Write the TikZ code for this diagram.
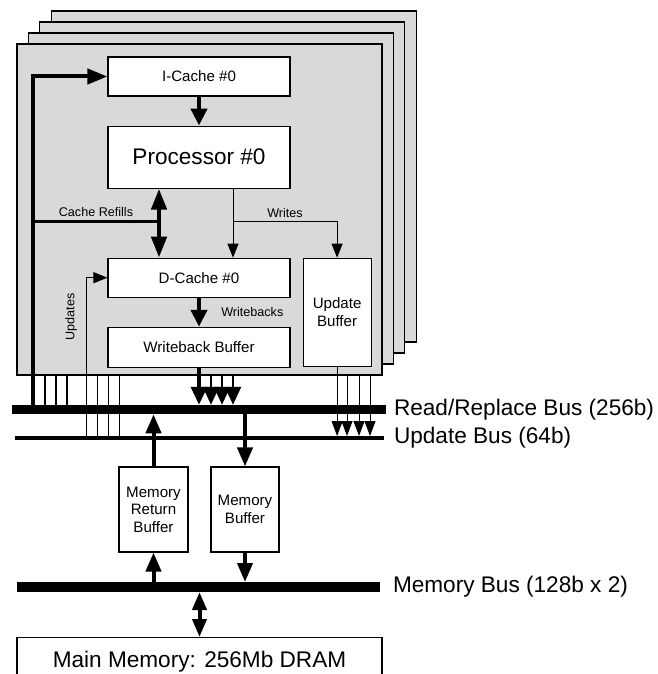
\documentclass[tikz,border=0pt]{standalone}
\usepackage{fontspec}
\setmainfont{Liberation Sans}
\usetikzlibrary{arrows.meta,positioning}

\begin{document}
\begin{tikzpicture}[x=1pt,y=-1pt]
  \tikzset{
    box/.style={draw, fill=white, line width=1.1pt, inner sep=0pt, align=center,
                font=\fontsize{15.1}{17.5}\selectfont},
    bigtxt/.style={font=\fontsize{22.6}{26}\selectfont},
    lbl/.style={font=\fontsize{12.6}{15}\selectfont, inner sep=1pt},
    buslbl/.style={font=\fontsize{22.6}{26}\selectfont, inner sep=0pt, outer sep=0pt, anchor=west},
    fat/.style={line width=4.5pt, -{Triangle[length=17pt,width=16pt]}},
    fatboth/.style={line width=4.5pt, {Triangle[length=21pt,width=15pt]}-{Triangle[length=21pt,width=15pt]}},
    wide/.style={line width=4pt, -{Triangle[length=19pt,width=15pt]}},
    wideboth/.style={line width=4pt, {Triangle[length=18pt,width=14pt]}-{Triangle[length=18pt,width=14pt]}},
    wbarrow/.style={line width=2.5pt, -{Triangle[length=18pt,width=16pt]}},
    fine/.style={line width=1pt, -{Triangle[length=14pt,width=11pt]}},
    ubarrow/.style={line width=1pt, -{Triangle[length=15pt,width=11pt]}}
  }
  \useasboundingbox (0,0) rectangle (657,674);

  % stacked processor tiles
  \foreach \i in {3,2,1,0}
    \draw[fill=black!15, line width=1.2pt] (17+11.4*\i,44-11*\i) rectangle +(365,331);

  \node[box, minimum width=182pt, minimum height=39pt] (icache) at (199,76.5) {I-Cache \#0};
  \node[box, bigtxt, minimum width=182pt, minimum height=62pt, below=29pt of icache] (proc) {Processor \#0};
  \node[box, minimum width=182pt, minimum height=39pt, below=69pt of proc] (dcache) {D-Cache \#0};
  \node[box, minimum width=182pt, minimum height=40pt, below=29pt of dcache] (wbuf) {Writeback Buffer};
  \node[box, minimum width=68pt, minimum height=108pt, anchor=north west] (ubuf)
    at ([xshift=12pt]dcache.north east) {Update\\Buffer};

  \node[box, minimum width=69pt, minimum height=85pt] (mrbuf) at (153.5,509.5) {Memory\\Return\\Buffer};
  \node[box, minimum width=68pt, minimum height=85pt] (mbuf) at (245,509.5) {Memory\\Buffer};
  \node[box, bigtxt, anchor=north, minimum width=365pt, inner ysep=14pt, text height=16pt, text depth=5pt]
    (mainmem) at (199.5,637) {Main Memory: 256Mb DRAM};

  % buses
  \coordinate (rtop) at (0,404.75);
  \coordinate (rbot) at (0,414.25);
  \coordinate (utop) at (0,436);
  \coordinate (mtop) at (0,582);
  \coordinate (mbot) at (0,592);
  \draw[line width=9.5pt] (12,409.5) -- (386,409.5) node[buslbl, xshift=8pt] {Read/Replace Bus (256b)};
  \draw[line width=4pt] (15,438) -- (384,438) node[buslbl, xshift=10pt] {Update Bus (64b)};
  \draw[line width=10pt] (17,587) -- (380,587) node[buslbl, xshift=13pt] {Memory Bus (128b x 2)};

  % refills
  \coordinate (tap) at (33,409.5);
  \coordinate (refill) at (159,221);
  \draw[line width=4pt, -{Triangle[length=20pt,width=15pt]}] (tap) |- (icache.west);
  \draw[line width=3pt] (tap |- refill) -- node[lbl, above=2pt] {Cache Refills} (refill);
  \draw[fatboth] (proc.south -| refill) -- (dcache.north -| refill);
  \foreach \x in {45,56,67}
    \draw[line width=2.5pt] (\x,375) -- (\x,409.5);

  % updates
  \coordinate (upd) at (86,438);
  \draw[fine] (upd) |- (dcache.west);
  \node[lbl, rotate=90] at (71,317) {Updates};
  \foreach \x in {97,108,119}
    \draw[line width=1pt] (\x,375) -- (\x,438);

  % processor side
  \draw[fat] (icache) -- (proc);
  \draw[fat] (dcache) -- node[lbl, anchor=west, xshift=19pt] {Writebacks} (wbuf);
  \coordinate (wr) at (233,221);
  \draw[fine] (proc.south -| wr) -- (dcache.north -| wr);
  \draw[fine] (wr) -| node[lbl, above=2pt, pos=0.25] {Writes} (ubuf.north);

  % writebacks and update buffer onto the buses
  \foreach \x in {211,222,233}
    \draw[wbarrow] (\x,375) -- (\x,404.75);
  \draw[wbarrow, line width=3.5pt] (wbuf.south) -- (wbuf.south |- rtop);
  \foreach \x in {347,359,370}
    \draw[ubarrow] (\x,375) -- (\x,436);
  \draw[ubarrow] (ubuf.south) -- (ubuf.south |- utop);

  % memory side
  \draw[wide] (mrbuf.north) -- (mrbuf.north |- rbot);
  \draw[wide] (mbuf.north |- rbot) -- (mbuf.north);
  \draw[wide] (mrbuf.south |- mtop) -- (mrbuf.south);
  \draw[wide] (mbuf.south) -- (mbuf.south |- mtop);
  \draw[wideboth] (mainmem.north |- mbot) -- (mainmem.north);
\end{tikzpicture}
\end{document}
